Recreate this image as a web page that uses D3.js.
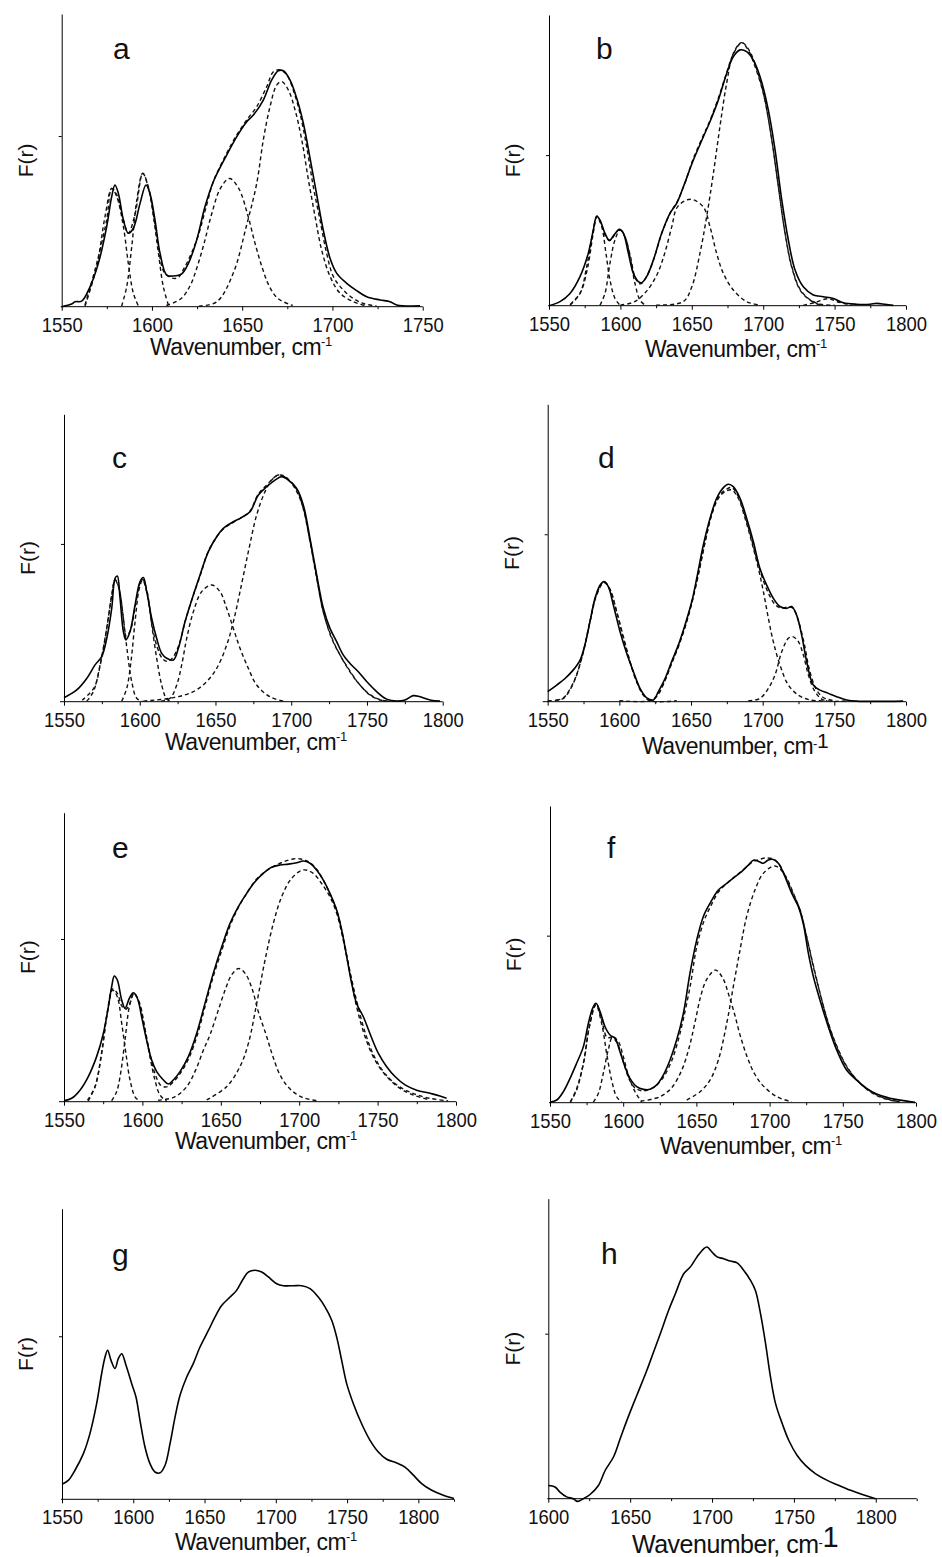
<!DOCTYPE html>
<html>
<head>
<meta charset="utf-8">
<script src="https://cdn.jsdelivr.net/npm/d3@7"></script>
<style>
  body { margin: 0; background: #fff; }
  svg { display: block; font-family: "Liberation Sans", Arial, sans-serif; }
</style>
</head>
<body>
<div id="chart"></div>
<script>
/* ----------------------- Data (x = wavenumber, y = % of axis height) ----------------------- */
const ticks1750 = [1550, 1600, 1650, 1700, 1750];
const ticks1800 = [1550, 1600, 1650, 1700, 1750, 1800];
const ticksH = [1600, 1650, 1700, 1750, 1800];

const solidA = [[1550,0],[1555.5,0.9],[1557.4,1.7],[1561.1,1.9],[1565.7,6.8],[1570.3,14.8],[1574.9,27.3],[1577.7,37.6],[1579.5,41.6],[1581.4,38.7],[1584.2,29.6],[1586.9,25.1],[1589.7,26.8],[1593.4,35.3],[1596.7,41.6],[1598.9,38.7],[1601.7,29.6],[1604.5,18.2],[1608.2,10.8],[1611.9,10.5],[1616.5,11.2],[1620.2,14.8],[1624.8,22.8],[1629.4,34.2],[1634,42.7],[1641.4,51.8],[1647,58.1],[1652.5,63.2],[1656.2,65.5],[1661.7,70.6],[1666.3,77.4],[1670,80.6],[1672.8,80.6],[1676.5,77.4],[1680.2,71.2],[1683.9,62.6],[1687.6,50.7],[1691.3,38.2],[1694.9,26.2],[1698.7,16.5],[1702.4,11.4],[1707.9,8],[1713.4,5.5],[1719,3.4],[1726.4,2.3],[1731.9,1.7],[1735.6,0.6],[1748.5,0.3]];
const fitA = [[1562.9,0.6],[1569.4,14.8],[1574.9,29.6],[1577.7,40.4],[1580.5,38.2],[1584.2,29.6],[1586.9,25.1],[1590.6,31.5],[1594.9,45.6],[1598,40.7],[1602.6,25.1],[1607.2,11.4],[1613.7,9.7],[1618.3,13.7],[1624.8,22.8],[1630.3,34.7],[1634,42.7],[1641.4,52.4],[1647,58.7],[1652.5,63.8],[1658,68.3],[1663.6,75.2],[1667.3,80.3],[1671,80.9],[1674.7,79.2],[1678.3,74],[1682,66.1],[1685.7,54.7],[1689.4,41],[1693.1,29.6],[1696.8,18.2],[1700.5,10.3],[1706,5.7],[1711.6,2.8],[1717.1,1.1],[1724.5,0.2]];
const peaksA = [
  [[1562.9,0.2],[1569.4,13.7],[1574,30.8],[1577.7,40.4],[1580.5,37.6],[1584.2,27.3],[1586.9,14.8],[1589.7,4.6],[1592.5,0.2]],
  [[1583.2,0.2],[1586,6.8],[1588.8,20.5],[1591.6,36.4],[1594.9,45.6],[1598,41],[1600.8,30.8],[1603.6,18.2],[1606.3,6.8],[1609.1,0.6]],
  [[1608,0.4],[1616,2.7],[1621,7],[1625,13.5],[1629,21.9],[1633,31.5],[1638,40.5],[1643,43.8],[1648,40.5],[1653,31.5],[1657,21.9],[1661,13.5],[1665,7],[1670,2.7],[1678,0.4]],
  [[1626,0.2],[1636,1.7],[1645,11.4],[1652.5,28],[1658,42],[1661.7,57],[1665.4,68.3],[1669.1,75.7],[1671.9,76.9],[1675.6,74],[1679.3,67.2],[1683,57],[1686.7,43.3],[1690.4,30.8],[1694,19.4],[1698.7,10.3],[1704.2,4.6],[1711.6,1.7],[1719,0.2]]
];

const solidB = [[1550,0],[1557.7,1.4],[1564.7,4.2],[1571.7,10],[1577.5,18],[1581,26],[1583.4,30.8],[1585.7,29.4],[1589.2,24.9],[1592.3,22.4],[1595.5,24.3],[1599.3,26.3],[1602.1,24.9],[1605.6,18],[1609.1,11.1],[1612.6,8.3],[1614.9,7.9],[1618.4,10],[1623.1,15.7],[1628.9,24.9],[1634.7,31.8],[1639.4,35.2],[1644.1,40.9],[1651.1,50.1],[1658.1,58.1],[1662.7,63.3],[1668.6,70.8],[1674.4,79.9],[1679.1,85.7],[1683.8,88],[1688.4,87.4],[1693.1,84.5],[1697.8,78.8],[1703.6,67.3],[1708.3,53.6],[1713,36.4],[1717.6,22.6],[1722.3,12.3],[1728.1,6.5],[1735.1,3.7],[1742.1,3.1],[1749.1,2.5],[1756.1,1],[1765.4,0.5],[1774.8,0.5],[1779.5,0.8],[1785.3,0.5],[1791.1,0.1]];
const fitB = [[1565,0.5],[1572,4.5],[1577,13],[1581,25],[1583.6,30.8],[1587,27.5],[1590,23.5],[1593,22.5],[1596,24.5],[1599.7,26.3],[1603,24],[1607,17],[1610.5,9.5],[1614,7.5],[1618,9.8],[1623,15.5],[1629,25],[1635,32],[1640,36],[1645,42],[1651,50.5],[1658,58.5],[1663,64],[1669,72],[1674,79.5],[1679,86.5],[1685,90.5],[1690,88],[1694,83.5],[1700,73.5],[1706,57],[1710.6,41],[1715.3,25],[1720,13.5],[1726,5.5],[1733,2],[1740,0.5],[1750,0.2]];
const peaksB = [
  [[1564.7,0.2],[1571.7,4.2],[1576.4,13.4],[1580.6,24.9],[1583.6,30.6],[1586.9,27.2],[1589.9,18],[1592.7,8.8],[1596.2,2.5],[1599.7,0.2]],
  [[1585.7,0.2],[1589.2,4.2],[1592.7,14.6],[1596.2,22.6],[1599.7,26],[1603.2,23.7],[1606.7,16.9],[1610.2,7.7],[1613.7,1.9],[1617.2,0.2]],
  [[1600,0.2],[1610,1.4],[1619,5.4],[1626,11.1],[1631,18],[1636,27.2],[1640,34],[1649,36.6],[1658,34],[1662.7,27.2],[1667.4,18],[1672.1,11.1],[1679.1,5.4],[1688.4,1.4],[1698,0.2]],
  [[1625,0.2],[1644,1.4],[1650,6.5],[1655.7,18],[1660.4,30.6],[1665.1,45.5],[1669.7,61.6],[1674.4,76.5],[1679.1,86.8],[1684.9,90.5],[1690,87.5],[1693.1,83.9],[1700.1,73],[1706,57],[1710.6,41],[1715.3,24.9],[1719.9,13.4],[1725.8,5.4],[1732.8,1.9],[1739.8,0.2]],
  [[1728,0.1],[1737,1.2],[1745,2.4],[1753,1.2],[1762,0.1]]
];

const solidC = [[1550,1.4],[1558.4,4.1],[1565,8.1],[1570.5,12.8],[1574.9,15.7],[1578.2,22],[1581.5,32.5],[1583.7,42.9],[1585.2,43.7],[1587,36],[1589.2,24.4],[1590.9,21.5],[1593.6,24.4],[1596.9,33.6],[1600.2,41.8],[1602.4,43.2],[1604.6,38.3],[1607.9,29],[1611.2,22],[1614.5,16.8],[1617.8,15.1],[1622.2,14.5],[1625.5,18.6],[1629.9,27.8],[1635.4,37.1],[1639.8,44.1],[1645.3,52.2],[1650.8,57.4],[1655.2,60.3],[1661.8,62.6],[1666.2,63.8],[1672.8,66.1],[1678.3,71.9],[1683.8,74.8],[1689.3,77.1],[1693.7,78.3],[1698.1,77.1],[1703.6,74.2],[1708,68.4],[1712.4,56.8],[1716.8,44.1],[1721.2,32.5],[1725.6,25.5],[1730,20.9],[1734.4,16.2],[1738.8,13.3],[1744.3,10.4],[1749.8,7],[1756.4,3.5],[1763,0.9],[1769.6,0.2],[1775.1,0.6],[1780.6,2.1],[1785,1.7],[1791.6,0.6],[1798.2,0.2]];
const fitC = [[1562,0.5],[1570,5],[1574,13],[1578.2,25.5],[1581.5,37],[1583.7,42.5],[1586.3,39.5],[1589,30],[1591,23],[1593.6,24.5],[1597,33],[1600,41],[1602,42.5],[1605,38],[1608,27],[1611.5,19],[1615,15],[1618.5,14],[1622,15.5],[1626,20],[1630,28],[1635,36.5],[1640,44],[1645,52],[1651,57.5],[1656,60.5],[1662,62.5],[1667,64],[1673,66.5],[1678,72],[1684,75.5],[1690,78.5],[1694,78.8],[1698,77.5],[1704,73.5],[1708,67],[1712.4,56],[1717,43],[1721,31.5],[1727,22],[1732,16.5],[1739,10.5],[1745,6],[1752,2.5],[1759,0.6],[1765,0.2]];
const peaksC = [
  [[1565,0.2],[1569.4,3.5],[1573.8,12.8],[1578.2,25.5],[1581.5,37.1],[1583.7,42.3],[1586.3,39.4],[1589.2,29],[1591.8,17.4],[1594.7,7],[1598,1.2],[1602,0.1]],
  [[1588.1,0.2],[1591.4,4.6],[1594.2,13.9],[1596.9,27.8],[1599.7,39.4],[1601.9,42.3],[1604.6,38.3],[1607.9,26.7],[1611.2,15.1],[1614.5,5.8],[1617.8,0.9],[1621,0.1]],
  [[1614,0.2],[1620,1.2],[1624.4,5.8],[1627.7,12.8],[1631,22],[1635.4,31.3],[1640.9,38.3],[1647.5,40.6],[1653,38.3],[1657.4,32.5],[1661.8,25.5],[1666.2,18.6],[1671.7,11.6],[1677.2,5.8],[1686,1.7],[1694.8,0.2]],
  [[1602.4,0.2],[1622.2,1.4],[1635.4,3.5],[1644.2,7],[1650.8,11.6],[1657.4,19.7],[1661.8,27.8],[1666.2,38.3],[1671.7,52.2],[1677.2,65],[1682.7,73.1],[1687.1,77.1],[1691.5,78.9],[1697,77.7],[1702.5,74.2],[1708,67.3],[1712.4,55.7],[1716.8,42.9],[1721.2,31.3],[1726.7,22],[1732.3,16.2],[1738.8,10.4],[1745.4,5.8],[1752,2.3],[1758.6,0.6],[1765,0.1]]
];

const solidD = [[1550,3.4],[1556.3,5.6],[1562.1,7.8],[1567.9,10.7],[1572.6,14],[1576,19.1],[1579.5,26.9],[1583,34.8],[1586.5,39.2],[1589.3,40.4],[1592.3,38.7],[1595.8,32.5],[1600.5,23.5],[1605.1,16.3],[1609.8,10.1],[1614.4,4.5],[1619.1,1.3],[1623.7,0.6],[1627.2,3.4],[1631.9,7.8],[1636.5,13.5],[1641.2,19.1],[1645.8,25.8],[1650.5,33.6],[1654,41.5],[1658.6,52.7],[1663.3,61.7],[1667.9,68.4],[1672.6,72],[1676,73.1],[1679.5,72.3],[1684.2,68.4],[1688.8,61.7],[1693.5,53.8],[1698.1,44.8],[1702.8,39.2],[1707.4,34.8],[1712.1,32],[1716.7,31.4],[1720.2,32],[1723.7,29.1],[1727.2,22.4],[1730.7,13.5],[1735.3,5.6],[1740,3.9],[1745.8,2.8],[1751.6,1.7],[1758.6,0.6],[1765.6,0.2],[1798,0.2]];
const fitD = [[1556,0.5],[1561,1.3],[1568,6.5],[1573.7,14.6],[1579.5,27],[1584,36],[1589.3,40.3],[1593.5,37.8],[1598,30.5],[1603,21.5],[1607.4,13.5],[1612,6.8],[1617,2.2],[1621.4,0.6],[1626,1.8],[1632,7.3],[1636.5,13],[1641,18.6],[1646,25.3],[1650.5,33.3],[1655,42.8],[1660,54],[1664.4,63],[1669,68.8],[1674,71.2],[1678.4,72],[1683,69],[1688,62],[1692.3,54.5],[1697,46],[1701,40],[1705,35.5],[1709,32.5],[1713,31.5],[1717,31.8],[1721,31.5],[1725,27],[1729,19.5],[1732.5,11],[1737,4.5],[1742,1.5],[1750,0.3]];
const peaksD = [
  [[1550,0.3],[1556,0.5],[1561,1.1],[1567.9,6.2],[1573.7,14.6],[1579.5,26.9],[1584.2,35.9],[1589.3,40.1],[1593.5,37.6],[1598.1,30.3],[1602.8,21.3],[1607.4,13.5],[1612.1,6.7],[1616.7,2.2],[1621.4,0.3],[1640,0.3]],
  [[1600,0.3],[1621.4,0.3],[1626,1.7],[1631.9,7.3],[1636.5,12.9],[1641.2,18.5],[1645.8,25.2],[1650.5,33.1],[1655.1,42.6],[1659.8,53.8],[1664.4,62.8],[1669.1,68.4],[1673.7,70.6],[1678.4,71.2],[1683,68.4],[1687.7,61.7],[1692.3,53.8],[1697,44.8],[1700.5,37],[1704,28],[1707.4,20.2],[1712.1,12.3],[1717.9,5.6],[1724.9,2.2],[1733,0.6],[1745,0.3]],
  [[1690,0.3],[1698.1,1.1],[1704,4.5],[1708.6,9],[1713.3,16.8],[1717.9,21.3],[1720.9,21.9],[1724.9,20.2],[1728.4,15.7],[1731.9,9],[1736.5,3.4],[1742.3,0.6],[1760,0.3]]
];

const solidE = [[1550,0.3],[1554.9,1.2],[1560.2,4],[1565.5,8.7],[1570.8,15.6],[1575.1,23.6],[1578.3,32.9],[1580.4,39.8],[1582.1,43.5],[1584,42.1],[1586.8,35.2],[1588.9,32.3],[1591.7,35.8],[1594.2,37.7],[1596.8,35.8],[1599.5,29.4],[1602.7,21.3],[1605.9,14.4],[1609.1,10.4],[1613.4,7.5],[1616.5,6.1],[1619.7,7.5],[1624,10.4],[1629.3,15.6],[1634.6,23.6],[1639.9,34],[1645.2,44.4],[1650.6,53.6],[1655.9,61.7],[1661.2,67.5],[1666.5,72.1],[1671.8,76.1],[1677.1,79],[1682.4,81.1],[1687.8,81.9],[1693.1,82.2],[1698.4,82.7],[1702.6,83.3],[1706.9,82.5],[1711.1,80.2],[1715.4,76.7],[1719.6,72.1],[1723.9,66.3],[1727.1,59.4],[1730.3,50.2],[1733.5,40.9],[1736.6,34],[1740.9,29.4],[1745.1,23.6],[1750.5,16.7],[1755.8,12.1],[1761.1,8.7],[1767.5,5.8],[1774.9,4],[1783.4,2.9],[1789.8,2],[1794,1.2]];
const fitE = [[1565,0.5],[1570,5.5],[1574,17],[1577.6,31],[1581,39],[1584,37.5],[1587,33],[1589.5,32],[1592,34],[1594.6,37.5],[1598,34.5],[1601.7,25],[1605,16],[1608.5,9],[1612,5.5],[1616,5.2],[1620,7],[1625,10.5],[1630,15.5],[1635,23],[1640,33],[1645,43],[1651,53],[1656,61],[1661,67],[1667,72.5],[1672,76.5],[1678,79.5],[1684,81.5],[1690,83],[1696,84],[1701,84],[1706,83],[1711,80.5],[1715,77],[1720,71.5],[1724,66],[1728,57],[1732,46],[1736.6,35],[1742,24],[1748,15.5],[1755,9.5],[1763,5.5],[1772,3],[1783,1.2],[1795,0.3]];
const peaksE = [
  [[1565.5,0.3],[1569.8,5.2],[1574,16.7],[1577.6,30.6],[1581,38.6],[1584,36.3],[1586.8,27.1],[1589.5,16.7],[1592.1,7.5],[1595.3,1.7],[1598.5,0.1]],
  [[1580.4,0.3],[1583.6,3.5],[1586.1,9.8],[1588.9,21.3],[1591.7,32.9],[1594.6,37.5],[1598,34],[1601.7,24.8],[1604.8,15.6],[1608,7.5],[1611.2,2.3],[1615.5,0.1]],
  [[1610,0.5],[1620,1.5],[1628,5],[1634,11],[1639,18],[1643,23],[1648,31],[1653,39],[1657,44],[1661.5,46.1],[1666,44],[1670,39],[1674,31],[1679,23],[1683,16],[1688,9],[1694,4.5],[1702,1.5],[1712,0.3]],
  [[1641,0.6],[1653.7,5.2],[1662.2,12.1],[1667.6,20.2],[1672.9,34],[1678.2,49],[1683.5,61.7],[1688.8,70.9],[1695.2,77.3],[1702.6,80.2],[1709,79],[1714.3,75.5],[1719.6,70.9],[1723.9,65.2],[1728.1,55.9],[1732.4,44.4],[1736.6,32.9],[1742,22.5],[1748.3,14.4],[1755.8,8.7],[1764.3,4.6],[1772.8,2.3],[1783.4,0.6]]
];

const solidF = [[1550,0.2],[1554.6,0.9],[1559.1,3.7],[1563.7,8.2],[1568.2,13.3],[1572.8,18.9],[1576.2,26.7],[1579.1,31.8],[1581.4,33.5],[1584.2,30.7],[1587.6,25.6],[1591,22.8],[1594.4,21.7],[1597.8,17.2],[1601.2,12.1],[1604.6,8.2],[1609.2,5.4],[1613.8,4.5],[1618.3,4.5],[1622.9,6],[1627.4,9.3],[1632,14.4],[1636.5,21.1],[1641.1,30.1],[1645.6,43.6],[1650.2,54.8],[1654.7,62.7],[1659.3,67.2],[1665,71.7],[1670.7,73.9],[1676.4,76.2],[1680.9,77.9],[1685.5,80.1],[1689.3,81.8],[1693,81.2],[1695.7,80.7],[1699.1,81.8],[1702.6,82],[1706,80.7],[1710.5,76.2],[1715.1,70.6],[1719.6,66.1],[1723,60.4],[1726.5,50.3],[1729.9,42.5],[1734.4,34.6],[1740.1,25.6],[1745.8,17.8],[1752.6,11],[1759.5,7.6],[1766.3,4.8],[1773.1,2.9],[1782.2,1.5],[1791.3,0.7],[1799.3,0.1]];
const fitF = [[1564,0.3],[1568,4.5],[1573,13.5],[1577,26],[1581.4,33.5],[1585,28.5],[1589,22],[1592.5,22],[1596,20],[1600,14],[1604,8],[1608,5],[1613,4],[1618,4.5],[1623,6],[1628,9],[1633,14],[1637,20],[1641,28],[1646,40],[1650,52],[1655,61],[1660,66.5],[1665,71],[1671,74],[1677,76.5],[1682,78.5],[1688,81],[1693,82],[1698,82.5],[1703,82],[1707,80],[1711,76],[1716,70.5],[1720.8,65],[1725,56.5],[1730,46],[1734.4,37],[1740,27],[1746,19],[1753,12],[1761,7],[1769,3.8],[1778,1.6],[1789,0.3]];
const peaksF = [
  [[1563.7,0],[1568.2,4.3],[1572.8,13.3],[1576.9,25.6],[1581.4,32.9],[1585.3,26.7],[1588.7,16.6],[1592.1,7.6],[1595.5,2],[1599,0.2]],
  [[1579.6,0.2],[1583,3.1],[1586.4,9.9],[1589.8,17.8],[1592.8,22.2],[1596.7,20.6],[1600.1,15.5],[1603.5,9.3],[1608.1,3.7],[1612.6,0.3]],
  [[1612,0.5],[1625,2],[1633,5],[1640,11],[1645,18.5],[1649,27],[1653,36],[1657,41.5],[1663,44.7],[1668,42],[1672,36.5],[1676,30],[1680,22.5],[1685,15],[1690,9.5],[1696,5.5],[1705,2],[1715,0.3]],
  [[1643.4,0.9],[1652.5,3.7],[1659.3,7.6],[1665,14.4],[1670.7,26.7],[1675.2,39.1],[1679.8,51.5],[1684.3,62.7],[1690,71.7],[1695.7,77.3],[1703.7,79.8],[1710.5,76.7],[1716.2,70.6],[1720.8,64.9],[1725.3,56],[1729.9,45.8],[1734.4,36.9],[1740.1,26.7],[1745.8,18.9],[1752.6,12.1],[1760.6,7.1],[1768.6,3.7],[1777.7,1.5],[1789.1,0.2]]
];

const solidG = [[1550,5.2],[1554.4,6.5],[1559.1,10],[1565,15.7],[1569.6,22.6],[1574.3,32.9],[1577.8,43.2],[1580.2,49],[1582,51.3],[1584.4,47.8],[1587.2,45],[1589.5,48.4],[1591.9,50.1],[1594.9,46.1],[1598.9,39.8],[1601.9,35.2],[1604.7,27.2],[1608.2,18],[1611.7,12.3],[1615.2,9.4],[1618.8,9.1],[1622.3,11.7],[1625.8,19.2],[1629.3,28.3],[1632.8,35.8],[1637.5,42.1],[1642.1,46.7],[1646.8,52.4],[1652.7,58.1],[1657.3,62.7],[1662,66.7],[1667.9,69.6],[1672.5,71.9],[1677.2,75.9],[1680.7,78.2],[1685.4,78.8],[1690.1,78.2],[1694.8,76.5],[1700.6,74.2],[1705.3,73.5],[1712.3,73.5],[1718.2,73.5],[1724,72.5],[1729.8,69.6],[1734.5,66.2],[1739.2,61.6],[1742.7,55.8],[1746.2,47.8],[1749.7,39.8],[1754.4,32.9],[1760.2,26],[1766.1,20.3],[1771.9,16.3],[1777.8,13.8],[1784.8,12.5],[1790.6,11.1],[1796.5,8.3],[1802.3,5.4],[1809.4,3.1],[1817.5,1.4],[1825,0.3]];

const solidH = [[1600,4.4],[1604.1,3.9],[1607.1,2.2],[1611.2,0.6],[1615.3,0],[1617.8,-0.9],[1621.4,0],[1625.5,1.4],[1630.6,4.4],[1634.7,9.4],[1639.8,13.9],[1643.9,20],[1648,26.1],[1652,31.7],[1656.1,37.2],[1660.2,42.8],[1664.3,48.9],[1668.4,55],[1673.5,62.8],[1677.6,68.3],[1682.7,75],[1686.7,77.2],[1690.8,80.6],[1694.9,83.3],[1697,83.9],[1700,82.2],[1703.1,80.6],[1707.1,80],[1711.2,79.2],[1715.3,78.6],[1719.4,76.1],[1723.5,72.8],[1726.5,69.4],[1729.6,61.7],[1732.7,51.7],[1735.7,40.6],[1738.8,31.7],[1742.9,25],[1746.9,19.4],[1752,14.4],[1757.1,11.1],[1763.3,8.3],[1770.4,6.1],[1777.6,4.4],[1784.7,2.8],[1791.8,1.4],[1798,0.3],[1800,0]];

/* ----------------------- Panel layout ----------------------- */
const panels = [
  { key: "a", solid: solidA, fit: fitA, peaks: peaksA, ticks: ticks1750, domain: [1550, 1750], yTick: 58.3,
    left: 61.7, right: 422.7, top: 14, bottom: 306.7, ext: 1, letterX: 113, letterY: 59, titleX: 150, titleDy: 48, titleSize: 23, supSize: 0 },
  { key: "b", solid: solidB, fit: fitB, peaks: peaksB, ticks: ticks1800, domain: [1550, 1800], yTick: 51.8,
    left: 549, right: 906, top: 15, bottom: 305.7, ext: 1, letterX: 596, letterY: 59, titleX: 645, titleDy: 51, titleSize: 23, supSize: 0 },
  { key: "c", solid: solidC, fit: fitC, peaks: peaksC, ticks: ticks1800, domain: [1550, 1800], yTick: 54.9,
    left: 64, right: 442.7, top: 414.3, bottom: 701.7, ext: 4, letterX: 112, letterY: 468, titleX: 165, titleDy: 48, titleSize: 23, supSize: 0 },
  { key: "d", solid: solidD, fit: fitD, peaks: peaksD, ticks: ticks1800, domain: [1550, 1800], yTick: 56.3,
    left: 547.7, right: 906, top: 404.3, bottom: 701.7, ext: 5, letterX: 598, letterY: 468, titleX: 642, titleDy: 52, titleSize: 23, supSize: 21 },
  { key: "e", solid: solidE, fit: fitE, peaks: peaksE, ticks: ticks1800, domain: [1550, 1800], yTick: 56.3,
    left: 64, right: 456, top: 812.7, bottom: 1101.7, ext: 5, letterX: 112, letterY: 858, titleX: 175, titleDy: 47, titleSize: 23, supSize: 0 },
  { key: "f", solid: solidF, fit: fitF, peaks: peaksF, ticks: ticks1800, domain: [1550, 1800], yTick: 56.3,
    left: 550, right: 916, top: 806, bottom: 1102.7, ext: 1, letterX: 607, letterY: 858, titleX: 660, titleDy: 51, titleSize: 23, supSize: 0 },
  { key: "g", solid: solidG, fit: null, peaks: [], ticks: ticks1800, domain: [1550, 1825], yTick: 56.1,
    left: 62, right: 454, top: 1208.7, bottom: 1499.3, ext: 1, letterX: 112, letterY: 1265, titleX: 175, titleDy: 51, titleSize: 23, supSize: 0 },
  { key: "h", solid: solidH, fit: null, peaks: [], ticks: ticksH, domain: [1600, 1825], yTick: 55,
    left: 548.3, right: 916.7, top: 1198.7, bottom: 1498.7, ext: 1, letterX: 601, letterY: 1264, titleX: 632, titleDy: 54, titleSize: 25, supSize: 29 }
];

/* ----------------------- SVG ----------------------- */
const svg = d3.select("#chart")
  .append("svg")
  .attr("width", 942)
  .attr("height", 1557);

panels.forEach((p) => {
  const width = p.right - p.left;
  const height = p.bottom - p.top;

  const x = d3.scaleLinear().domain(p.domain).range([0, width]);
  const y = d3.scaleLinear().domain([0, 100]).range([height, 0]);

  const g = svg.append("g").attr("transform", `translate(${p.left},${p.top})`);

  const line = d3.line()
    .x((d) => x(d[0]))
    .y((d) => y(d[1]))
    .curve(d3.curveCatmullRom.alpha(0.5));

  // minor ticks every 25
  const minor = d3.range(p.domain[0] + 25, p.domain[1] + 1, 50);
  g.append("g")
    .attr("transform", `translate(0,${height})`)
    .call(d3.axisBottom(x).tickValues(minor).tickSize(2.5).tickSizeOuter(0).tickFormat(""))
    .call((ax) => ax.select(".domain").remove())
    .selectAll("line").attr("stroke", "#000");

  // major ticks and labels
  const xAxisGroup = g.append("g")
    .attr("transform", `translate(0,${height})`)
    .call(d3.axisBottom(x).tickValues(p.ticks).tickSize(4).tickSizeOuter(0).tickPadding(6).tickFormat(d3.format("d")));
  xAxisGroup.select(".domain").attr("d", `M${-p.ext},0H${width}`).attr("stroke", "#000");
  xAxisGroup.selectAll(".tick line").attr("stroke", "#000");
  xAxisGroup.selectAll(".tick text")
    .attr("fill", "#111")
    .style("font-size", "21px")
    .style("font-family", '"Liberation Sans", Arial, sans-serif')
    .attr("textLength", 41)
    .attr("lengthAdjust", "spacingAndGlyphs");

  // y axis with a single unlabeled tick
  const yAxisGroup = g.append("g")
    .call(d3.axisLeft(y).tickValues([p.yTick]).tickSize(3).tickSizeOuter(0).tickFormat(""));
  yAxisGroup.select(".domain").attr("stroke", "#000");
  yAxisGroup.selectAll("line").attr("stroke", "#000");

  // dashed components
  p.peaks.forEach((pk) => {
    g.append("path")
      .datum(pk)
      .attr("d", line)
      .attr("fill", "none")
      .attr("stroke", "#111")
      .attr("stroke-width", 1.4)
      .attr("stroke-dasharray", "4,3");
  });

  // dashed fitted envelope
  if (p.fit) {
    g.append("path")
      .datum(p.fit)
      .attr("d", line)
      .attr("fill", "none")
      .attr("stroke", "#111")
      .attr("stroke-width", 1.4)
      .attr("stroke-dasharray", "4,3");
  }

  // measured spectrum
  g.append("path")
    .datum(p.solid)
    .attr("d", line)
    .attr("fill", "none")
    .attr("stroke", "#000")
    .attr("stroke-width", 1.6);

  // panel letter
  svg.append("text")
    .attr("x", p.letterX)
    .attr("y", p.letterY)
    .style("font-size", "30px")
    .attr("fill", "#111")
    .text(p.key);

  // y label
  svg.append("text")
    .attr("transform", `translate(${p.left - 36},${(p.top + p.bottom) / 2}) rotate(-90)`)
    .attr("text-anchor", "middle")
    .attr("dy", "0.35em")
    .style("font-size", "21px")
    .attr("fill", "#111")
    .text("F(r)");

  // x label
  const title = svg.append("text")
    .attr("x", p.titleX)
    .attr("y", p.bottom + p.titleDy)
    .style("font-size", `${p.titleSize}px`)
    .style("letter-spacing", "-0.5px")
    .attr("fill", "#111");
  title.append("tspan").text("Wavenumber, cm");
  if (p.supSize) {
    title.append("tspan").attr("dy", -6).style("font-size", "13px").text("-");
    title.append("tspan").style("font-size", `${p.supSize}px`).text("1");
  } else {
    title.append("tspan").attr("dy", -9).style("font-size", "13px").text("-1");
  }
});
</script>
</body>
</html>
